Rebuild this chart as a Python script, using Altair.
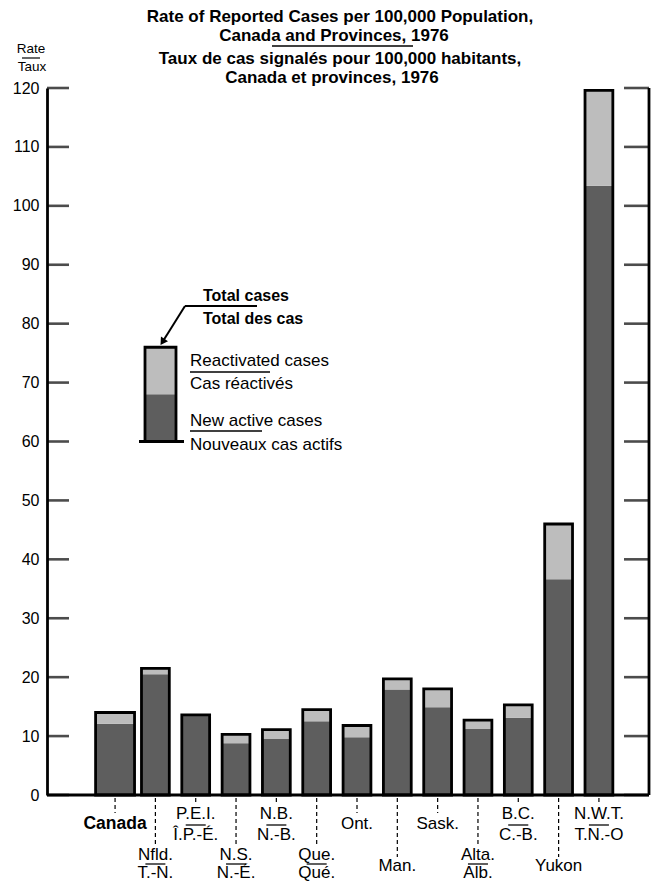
import altair as alt
import pandas as pd

# ---- data ----
regions = ["Canada", "Nfld.", "P.E.I.", "N.S.", "N.B.", "Que.", "Ont.",
           "Man.", "Sask.", "Alta.", "B.C.", "Yukon", "N.W.T."]
french = ["", "T.-N.", "Î.P.-É.", "N.-É.", "N.-B.", "Qué.", "",
          "", "", "Alb.", "C.-B.", "", "T.N.-O"]
tier = ["high", "low", "high", "low", "high", "low", "high",
        "low", "high", "low", "high", "low", "high"]
new_active = [12.1, 20.5, 13.6, 8.8, 9.5, 12.5, 9.8, 17.9, 14.9, 11.2, 13.1, 36.6, 103.4]
reactivated = [1.9, 1.0, 0.0, 1.5, 1.6, 2.0, 2.0, 1.8, 3.1, 1.5, 2.2, 9.4, 16.2]
y_ticks = [0, 10, 20, 30, 40, 50, 60, 70, 80, 90, 100, 110, 120]
legend_lo = [60, 68]
legend_hi = [68, 76]
legend_seg = ["new", "reactivated"]

FONT = "Liberation Sans"
DARK = "#5e5e5e"
LIGHT = "#bdbdbd"
W, H = 602, 707
BW = 2.8
OX, OY = 47, 88   # page position of the plot origin (used for annotations)

rows = []
for r, n, re_ in zip(regions, new_active, reactivated):
    rows.append({"region": r, "segment": "new", "rate": n})
    rows.append({"region": r, "segment": "reactivated", "rate": re_})
bars = pd.DataFrame(rows)
labels = pd.DataFrame({"region": regions, "french": french, "tier": tier})
legend_df = pd.DataFrame({"lo": legend_lo, "hi": legend_hi, "segment": legend_seg})
one = pd.DataFrame({"a": [0]})

xscale = alt.Scale(paddingInner=0.31, paddingOuter=0.5, range=[34, 586])
X = alt.X("region:N", sort=regions, scale=xscale,
          axis=alt.Axis(labels=False, ticks=False, title=None, domain=False))
yscale = alt.Scale(domain=[0, 120], nice=False)
yaxis = alt.Axis(values=y_ticks, ticks=False, grid=False, title=None,
                 labelFontSize=16, labelFont=FONT, labelColor="black",
                 labelPadding=8, labelFlush=False, domainWidth=2.8,
                 domainColor="black")
colorscale = alt.Scale(domain=["new", "reactivated"], range=[DARK, LIGHT])


def fills(df, width=None):
    kw = {"strokeWidth": 0}
    if width is not None:
        kw["width"] = alt.RelativeBandSize(width)
    return alt.Chart(df).mark_bar(**kw).encode(
        x=X,
        y=alt.Y("rate:Q", stack="zero", scale=yscale, axis=yaxis),
        color=alt.Color("segment:N", scale=colorscale, legend=None),
        order=alt.Order("segment:N", sort="ascending"),
    )


def outline(df, width=None):
    kw = {"filled": False, "stroke": "black", "strokeWidth": BW}
    if width is not None:
        kw["width"] = alt.RelativeBandSize(width)
    return alt.Chart(df).mark_bar(**kw).encode(
        x=X,
        y=alt.Y("sum(rate):Q", scale=yscale, axis=yaxis),
    )


def ypos(y):
    # numbers are pixels; tuples ("d", v) are data values on the rate scale
    if isinstance(y, tuple):
        return alt.YDatum(y[1], scale=yscale, axis=yaxis)
    return alt.value(y)


def note(txt, x, y, size=17, weight="normal", align="left"):
    return alt.Chart(one).mark_text(
        text=txt, align=align, baseline="middle", fontSize=size,
        fontWeight=weight, font=FONT, color="black"
    ).encode(x=alt.value(x), y=ypos(y))


def seg(x1, x2, y1, y2=None, w=1.5):
    enc = dict(x=alt.value(x1), x2=alt.value(x2), y=ypos(y1))
    if y2 is not None:
        enc["y2"] = ypos(y2) if not isinstance(y2, tuple) else alt.Y2Datum(y2[1])
    return alt.Chart(one).mark_rule(strokeWidth=w, color="black").encode(**enc)


canada = bars[bars.region == "Canada"]
others = bars[bars.region != "Canada"]

layers = [
    fills(others), fills(canada, 1.4),
    outline(others), outline(canada, 1.4),
]

# inward ticks on left and right, right frame line and baseline
tick_df = pd.DataFrame({"v": y_ticks})
layers.append(alt.Chart(tick_df).mark_tick(orient="horizontal", size=22, thickness=2.6,
                                           color="black")
              .encode(y=alt.Y("v:Q", scale=yscale, axis=yaxis), x=alt.value(11)))
layers.append(alt.Chart(tick_df).mark_tick(orient="horizontal", size=25, thickness=2.6,
                                           color="black")
              .encode(y=alt.Y("v:Q", scale=yscale, axis=yaxis), x=alt.value(W - 12.5)))
layers.append(seg(W, W, 0, H, w=2.8))
layers.append(seg(0, W, H, w=2.8))

# x labels (pixel offsets below the axis line)
FS = 17
two = labels[labels.french != ""]
single = labels[(labels.french == "") & (labels.region != "Canada")]
can_lab = labels[labels.region == "Canada"]

leader_end = {("high", "two"): H + 7, ("high", "single"): H + 18,
              ("low", "two"): H + 51, ("low", "single"): H + 62}
line1_y = {"high": H + 19, "low": H + 60}
sep_y = {"high": H + 30, "low": H + 69}
line2_y = {"high": H + 40, "low": H + 78}
single_y = {"high": H + 29, "low": H + 71}

for t in ["high", "low"]:
    d2 = two[two.tier == t]
    d1 = pd.concat([single[single.tier == t], can_lab[can_lab.tier == t]])
    for d, kind in [(d2, "two"), (d1, "single")]:
        if len(d):
            layers.append(alt.Chart(d).mark_rule(strokeDash=[4, 3], strokeWidth=1.2,
                                                 color="black")
                          .encode(x=X, y=alt.value(H + 3),
                                  y2=alt.value(leader_end[(t, kind)])))
    if len(d2):
        layers.append(alt.Chart(d2).mark_text(fontSize=FS, font=FONT, color="black",
                                              baseline="middle")
                      .encode(x=X, y=alt.value(line1_y[t]), text="region:N"))
        layers.append(alt.Chart(d2).mark_tick(orient="horizontal", size=20, thickness=1.8,
                                              color="black")
                      .encode(x=X, y=alt.value(sep_y[t])))
        layers.append(alt.Chart(d2).mark_text(fontSize=FS, font=FONT, color="black",
                                              baseline="middle")
                      .encode(x=X, y=alt.value(line2_y[t]), text="french:N"))
    s = single[single.tier == t]
    if len(s):
        layers.append(alt.Chart(s).mark_text(fontSize=FS, font=FONT, color="black",
                                             baseline="middle")
                      .encode(x=X, y=alt.value(single_y[t]), text="region:N"))

layers.append(alt.Chart(can_lab).mark_text(fontSize=17.5, font=FONT, fontWeight="bold",
                                           color="black", baseline="middle")
              .encode(x=X, y=alt.value(single_y["high"]), text="region:N"))

# legend block
layers.append(alt.Chart(legend_df).mark_bar(strokeWidth=0).encode(
    x=alt.value(145 - OX), x2=alt.value(176 - OX),
    y=alt.Y("lo:Q", scale=yscale, axis=yaxis), y2="hi:Q",
    color=alt.Color("segment:N", scale=colorscale, legend=None)))
layers.append(alt.Chart(legend_df).mark_bar(filled=False, stroke="black", strokeWidth=BW)
              .encode(x=alt.value(145 - OX), x2=alt.value(176 - OX),
                      y=alt.Y("min(lo):Q", scale=yscale, axis=yaxis), y2="max(hi):Q"))
layers.append(seg(139 - OX, 184 - OX, ("d", 60), w=2.8))
layers += [
    note("Reactivated cases", 190 - OX, ("d", 73.7)),
    seg(190 - OX, 270 - OX, ("d", 71.8)),
    note("Cas réactivés", 190 - OX, ("d", 69.8)),
    note("New active cases", 190 - OX, ("d", 63.5)),
    seg(190 - OX, 262 - OX, ("d", 61.8)),
    note("Nouveaux cas actifs", 190 - OX, ("d", 59.4)),
    note("Total cases", 203 - OX, ("d", 84.7), size=16, weight="bold"),
    note("Total des cas", 203 - OX, ("d", 80.8), size=16, weight="bold"),
    seg(257 - OX, 185 - OX, ("d", 83.0), w=2),
    seg(185 - OX, 164 - OX, ("d", 83.0), ("d", 77.3), w=2),
    alt.Chart(one).mark_point(shape="triangle-down", filled=True, size=70, angle=33,
                              color="black", opacity=1)
    .encode(x=alt.value(162.5 - OX), y=ypos(("d", 76.9))),
]

# titles (page positions converted to plot coordinates)
TS = 17
layers += [
    note("Rate of Reported Cases per 100,000 Population,", 340 - OX, 17 - OY, size=TS,
         weight="bold", align="center"),
    note("Canada and Provinces, 1976", 334 - OX, 36 - OY, size=TS, weight="bold",
         align="center"),
    seg(272 - OX, 413 - OX, 46 - OY, w=1.6),
    note("Taux de cas signalés pour 100,000 habitants,", 340 - OX, 59 - OY, size=TS,
         weight="bold", align="center"),
    note("Canada et provinces, 1976", 332 - OX, 78 - OY, size=TS, weight="bold",
         align="center"),
    note("Rate", 31 - OX, 49 - OY, size=13.5, align="center"),
    seg(22 - OX, 40 - OX, 58 - OY, w=1.2),
    note("Taux", 32 - OX, 67 - OY, size=13.5, align="center"),
]

chart = alt.layer(*layers).properties(
    width=W, height=H,
    autosize=alt.AutoSizeParams(type="none"),
    padding={"left": OX - 8, "top": OY - 8, "right": 2, "bottom": 89},
    background="white",
).configure_view(stroke=None)

chart.save("out.html", embed_options={"renderer": "svg", "actions": False})
